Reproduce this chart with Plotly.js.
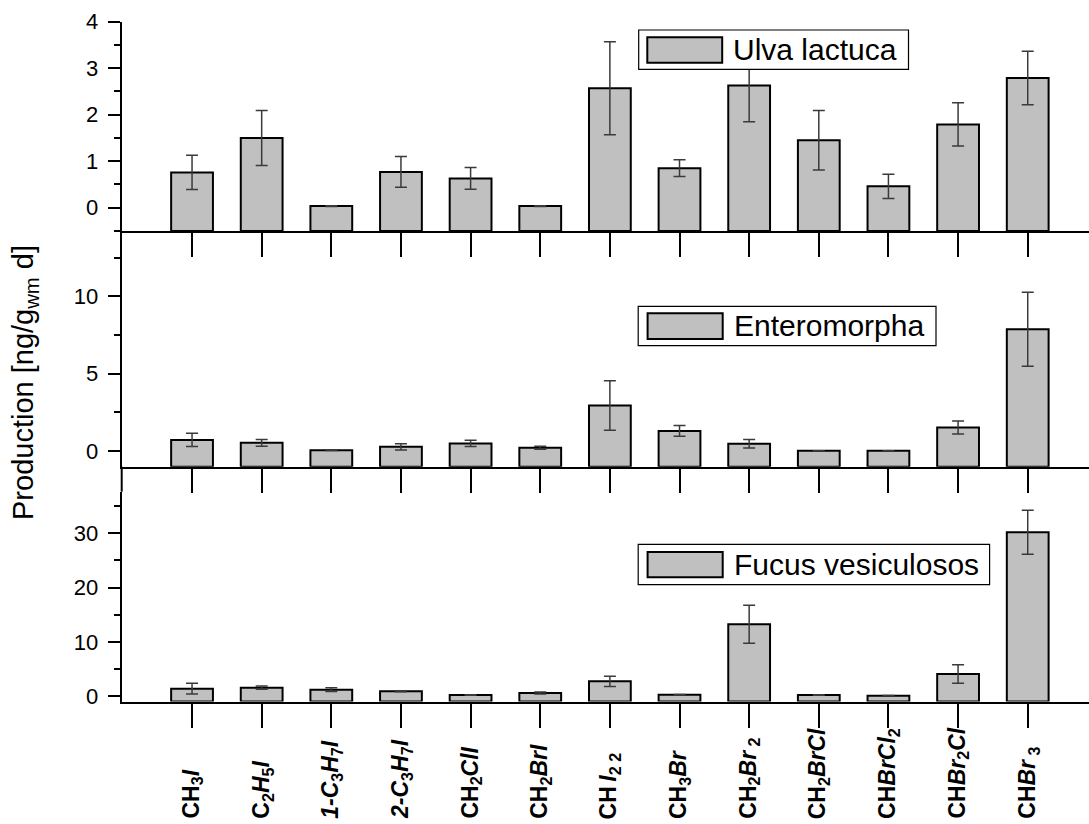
<!DOCTYPE html>
<html>
<head>
<meta charset="utf-8">
<script src="https://cdn.plot.ly/plotly-3.0.1.min.js"></script>
<style>html,body{margin:0;padding:0;background:#fff}#chart{width:1089px;height:824px}</style>
</head>
<body>
<div id="chart"></div>
<script>
// ---- data ----
const categories = ["CH3I","C2H5I","1-C3H7I","2-C3H7I","CH2ClI","CH2BrI","CH2I2","CH3Br","CH2Br2","CH2BrCl","CHBrCl2","CHBr2Cl","CHBr3"];
const tickLabels = [
  "<b>CH<sub>3</sub><i>I</i></b>",
  "<b>C<sub>2</sub><i>H</i><sub>5</sub><i>I</i></b>",
  "<b><i>1-C</i><sub>3</sub><i>H</i><sub>7</sub><i>I</i></b>",
  "<b><i>2-C</i><sub>3</sub><i>H</i><sub>7</sub><i>I</i></b>",
  "<b>CH<sub>2</sub><i>ClI</i></b>",
  "<b>CH<sub>2</sub><i>BrI</i></b>",
  "<b>CH<sub> </sub><i>I</i><sub>2 2</sub></b>",
  "<b>CH<sub>3</sub><i>Br</i></b>",
  "<b>CH<sub>2</sub><i>Br</i><sub> 2</sub></b>",
  "<b>CH<sub>2</sub><i>BrCl</i></b>",
  "<b>CH<i>BrCl</i><sub>2</sub></b>",
  "<b>CH<i>Br</i><sub>2</sub><i>Cl</i></b>",
  "<b>CH<i>Br</i><sub> 3</sub></b>"
];
const seriesNames = ["Ulva lactuca", "Enteromorpha", "Fucus vesiculosos"];
const ulva     = [0.76, 1.50, 0.035, 0.77, 0.63, 0.035, 2.57, 0.85, 2.63, 1.45, 0.46, 1.79, 2.79];
const ulvaErr  = [0.37, 0.59, 0.01, 0.33, 0.235, 0.01, 1.00, 0.18, 0.78, 0.64, 0.26, 0.465, 0.575];
const entero    = [0.73, 0.54, 0.06, 0.28, 0.50, 0.22, 2.95, 1.31, 0.48, 0.03, 0.03, 1.53, 7.87];
const enteroErr = [0.43, 0.22, 0.02, 0.20, 0.20, 0.10, 1.60, 0.35, 0.28, 0.0, 0.0, 0.42, 2.38];
const fucus    = [1.40, 1.59, 1.22, 0.92, 0.25, 0.60, 2.76, 0.30, 13.25, 0.25, 0.12, 4.10, 30.18];
const fucusErr = [1.00, 0.30, 0.35, 0.10, 0.05, 0.20, 0.95, 0.05, 3.50, 0.05, 0.03, 1.70, 4.05];
const yTitle = "Production [ng/g<sub>wm</sub> d]";

// ---- layout helpers ----
const W = 1089, H = 824;
const PX = x => x / W;
const PY = y => 1 - y / H;
const FONT = "Arial, 'Liberation Sans', sans-serif";
const xIdx = categories.map((c, i) => i);
const barFill = "#c0c0c0";

const yRanges = [[-0.5, 4], [-1, 14.21], [-0.96, 37.66]];

// Bars are drawn from the bottom of each axis (as in the original figure)
function barTrace(vals, errs, name, xa, ya, base) {
  return {
    type: "bar", x: xIdx, y: vals.map(v => v - base), base: base,
    name: name, xaxis: xa, yaxis: ya,
    width: 0.6, showlegend: false,
    marker: {color: barFill, line: {color: "#000", width: 2}},
    error_y: {type: "data", array: errs, visible: true, color: "#3a3a3a", thickness: 1.5, width: 6},
    hoverinfo: "skip"
  };
}

const data = [
  barTrace(ulva, ulvaErr, seriesNames[0], "x", "y", yRanges[0][0]),
  barTrace(entero, enteroErr, seriesNames[1], "x2", "y2", yRanges[1][0]),
  barTrace(fucus, fucusErr, seriesNames[2], "x3", "y3", yRanges[2][0])
];

const xDom = [PX(121.7), 1];
function xAxis(anchor) {
  return {
    domain: xDom, anchor: anchor, range: [-1.01, 12.88],
    showline: true, linewidth: 2, linecolor: "#000",
    ticks: "outside", ticklen: 24, tickwidth: 2, tickcolor: "#000",
    tickmode: "array", tickvals: xIdx, showticklabels: false,
    showgrid: false, zeroline: false, fixedrange: true
  };
}
function yAxis(anchor, dom, range, dtick) {
  return {
    domain: dom, anchor: anchor, range: range,
    showline: true, linewidth: 2, linecolor: "#000",
    ticks: "outside", ticklen: 12, tickwidth: 2, tickcolor: "#000",
    tick0: 0, dtick: dtick,
    minor: {ticks: "outside", ticklen: 6, tickwidth: 2, tickcolor: "#000", dtick: dtick / 2, tick0: 0, showgrid: false},
    tickfont: {family: FONT, size: 22, color: "#000"},
    ticklabelstandoff: 5,
    showgrid: false, zeroline: false, fixedrange: true
  };
}

const legendBoxes = [
  {box: [638.7, 30, 908.5, 69.3], sym: [647.3, 37.3, 722.2, 62.7]},
  {box: [638.2, 306.3, 936, 345.7], sym: [647.6, 313.3, 722.7, 339]},
  {box: [638.2, 544.3, 989.6, 584.7], sym: [647.6, 552, 722.7, 577.3]}
];

const shapes = [];
const annotations = [];
legendBoxes.forEach((lb, i) => {
  shapes.push({type: "rect", xref: "paper", yref: "paper", layer: "above",
    x0: PX(lb.box[0]), x1: PX(lb.box[2]), y0: PY(lb.box[1]), y1: PY(lb.box[3]),
    fillcolor: "#fff", line: {color: "#000", width: 1.2}});
  shapes.push({type: "rect", xref: "paper", yref: "paper", layer: "above",
    x0: PX(lb.sym[0]), x1: PX(lb.sym[2]), y0: PY(lb.sym[1]), y1: PY(lb.sym[3]),
    fillcolor: barFill, line: {color: "#000", width: 2}});
  annotations.push({xref: "paper", yref: "paper", x: PX(lb.sym[2] + 9), y: PY((lb.box[1] + lb.box[3]) / 2),
    xanchor: "left", yanchor: "middle", showarrow: false, text: seriesNames[i],
    font: {family: FONT, size: 30, color: "#000"}});
});
// spine segment between middle and bottom panels
shapes.push({type: "line", xref: "paper", yref: "paper", x0: PX(121.7), x1: PX(121.7),
  y0: PY(466.7), y1: PY(491.7), line: {color: "#000", width: 2}});

// category labels
tickLabels.forEach((t, i) => {
  annotations.push({xref: "x3", yref: "paper", x: xIdx[i], y: PY(821), xanchor: "center", yanchor: "bottom",
    textangle: -90, showarrow: false, text: t, font: {family: FONT, size: 23, color: "#000"}});
});
// y axis title
annotations.push({xref: "paper", yref: "paper", x: PX(25), y: PY(383), xanchor: "center", yanchor: "middle",
  textangle: -90, showarrow: false, text: yTitle, font: {family: FONT, size: 29, color: "#000"}});

const layout = {
  width: W, height: H,
  margin: {l: 0, r: 0, t: 0, b: 0, pad: 0},
  paper_bgcolor: "#fff", plot_bgcolor: "rgba(0,0,0,0)",
  showlegend: false, bargap: 0.4,
  font: {family: FONT, color: "#000"},
  xaxis: xAxis("y"),
  xaxis2: xAxis("y2"),
  xaxis3: xAxis("y3"),
  yaxis: yAxis("x", [PY(231), PY(21.7)], yRanges[0], 1),
  yaxis2: yAxis("x2", [PY(466.7), PY(231)], yRanges[1], 5),
  yaxis3: yAxis("x3", [PY(701.5), PY(491.7)], yRanges[2], 10),
  shapes: shapes,
  annotations: annotations
};

Plotly.newPlot("chart", data, layout, {displayModeBar: false, staticPlot: true});
</script>
</body>
</html>
